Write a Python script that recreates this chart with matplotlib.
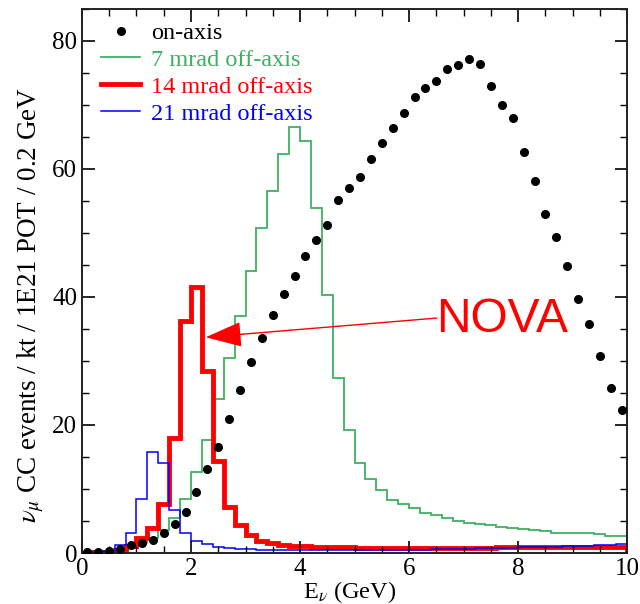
import numpy as np
import matplotlib
matplotlib.use("Agg")
import matplotlib.pyplot as plt
from matplotlib.ticker import MultipleLocator

plt.rcParams['font.family'] = ['Liberation Serif', 'DejaVu Serif']
plt.rcParams['mathtext.fontset'] = 'stix'

# 50 bins of 0.2 GeV from 0 to 10 GeV
edges = np.round(np.arange(0, 10.01, 0.2), 2)
centers = edges[:-1] + 0.1

on_axis = [0.1, 0.15, 0.3, 0.6, 1.2, 1.6, 2.1, 3.1, 4.5, 6.4,
           9.6, 13.1, 16.6, 20.9, 25.4, 29.9, 33.6, 37.1, 40.5, 43.3,
           46.4, 48.9, 51.3, 55.1, 57.0, 58.8, 61.5, 64.1, 66.4, 68.7,
           71.2, 72.6, 73.8, 75.6, 76.3, 77.1, 76.4, 72.9, 70.0, 67.9,
           62.6, 58.1, 52.9, 49.3, 44.8, 39.6, 35.7, 30.7, 25.7, 22.3]

mrad7 = [0.05, 0.1, 0.2, 0.5, 1.0, 1.5, 2.4, 3.6, 5.4, 8.4,
         12.7, 17.6, 24.0, 30.4, 37.0, 44.0, 50.7, 56.6, 62.4, 66.6,
         64.3, 53.9, 40.3, 27.4, 19.2, 14.1, 11.5, 9.8, 8.3, 7.7,
         7.1, 6.3, 5.9, 5.4, 5.0, 4.7, 4.5, 4.4, 4.0, 3.95,
         3.7, 3.6, 3.4, 3.2, 3.1, 3.2, 3.1, 2.9, 2.7, 2.7]

mrad14 = [0.05, 0.1, 0.15, 0.4, 1.1, 2.3, 3.9, 7.6, 18.0, 36.2,
          41.5, 28.5, 14.3, 7.2, 4.3, 2.8, 1.9, 1.5, 1.25, 1.1,
          1.05, 1.0, 0.95, 0.9, 0.9, 0.85, 0.85, 0.8, 0.8, 0.8,
          0.8, 0.8, 0.8, 0.8, 0.85, 0.85, 0.85, 0.85, 0.9, 0.9,
          0.9, 0.9, 0.9, 0.95, 0.95, 0.95, 1.0, 1.0, 1.0, 1.0]

mrad21 = [0.05, 0.1, 0.3, 1.2, 3.2, 8.5, 15.8, 14.1, 6.7, 3.2,
          1.9, 1.4, 1.0, 0.8, 0.65, 0.6, 0.55, 0.5, 0.5, 0.45,
          0.45, 0.45, 0.45, 0.45, 0.45, 0.45, 0.5, 0.5, 0.5, 0.5,
          0.55, 0.55, 0.6, 0.6, 0.65, 0.7, 0.75, 0.8, 0.8, 0.85,
          0.9, 0.9, 0.95, 1.0, 1.05, 1.1, 1.15, 1.2, 1.3, 1.35]

green = '#3fb062'

fig = plt.figure(figsize=(6.4, 6.04), dpi=100)
ax = fig.add_axes([0.128, 0.0844, 0.852, 0.901])

ax.stairs(mrad7, edges, color=green, lw=1.3, label='7 mrad off-axis')
ax.stairs(mrad14, edges, color='#ff0000', lw=3.5, label='14 mrad off-axis')
ax.stairs(mrad21, edges, color='#0000ff', lw=1.1, label='21 mrad off-axis')
ax.plot(centers, on_axis, 'o', color='black', ms=5.5, label='on-axis', zorder=5)

# NOVA annotation
ax.annotate('', xy=(2.27, 33.7), xytext=(6.51, 36.7),
            arrowprops=dict(arrowstyle='-|>,head_length=2.3,head_width=0.8',
                            color='#ff0000', lw=1.0, shrinkA=0, shrinkB=0))
ax.text(6.49, 36.4, 'NOVA', color='#ff0000', fontsize=34.5,
        family='Liberation Sans', ha='left', va='center')

ax.set_xlim(0, 10)
ax.set_ylim(0, 85)
ax.xaxis.set_major_locator(MultipleLocator(2))
ax.xaxis.set_minor_locator(MultipleLocator(0.5))
ax.yaxis.set_major_locator(MultipleLocator(20))
ax.yaxis.set_minor_locator(MultipleLocator(5))
ax.tick_params(which='both', direction='in', top=True, right=True, labelsize=18)
ax.tick_params(which='major', length=9, width=1.2)
ax.tick_params(which='minor', length=5, width=1.0)
for s in ax.spines.values():
    s.set_linewidth(1.4)
    s.set_color('#222222')

ax.set_xlabel(r'E$_{\nu}$ (GeV)', fontsize=17.5)
ax.xaxis.set_label_coords(0.49, -0.047)
ax.set_ylabel(r'$\nu_{\mu}$ CC events / kt / 1E21 POT / 0.2 GeV', fontsize=19.5)
ax.yaxis.set_label_coords(-0.066, 0.456)

h, l = ax.get_legend_handles_labels()
order = [3, 0, 1, 2]
leg = ax.legend([h[i] for i in order], [l[i] for i in order], loc='upper left',
                frameon=False, fontsize=17.5, handlelength=1.6, handletextpad=0.45,
                labelspacing=0.2, borderaxespad=0.1, bbox_to_anchor=(0.013, 0.998))
for txt, c in zip(leg.get_texts(), ['black', green, '#ff0000', '#0000ff']):
    txt.set_color(c)

fig.savefig('out.png', dpi=100)
